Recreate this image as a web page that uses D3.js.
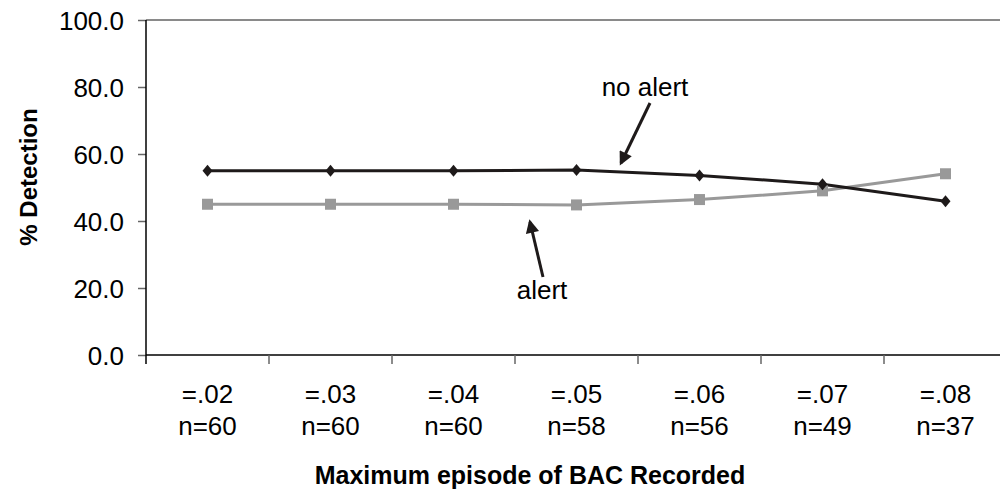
<!DOCTYPE html>
<html lang="en">
<head>
	<meta charset="utf-8">
	<title>% Detection by maximum BAC</title>
	<script src="https://d3js.org/d3.v7.min.js"></script>
	<style>
		body { margin: 0; background: #fff; }
		text { font-family: "Liberation Sans", Arial, sans-serif; }
	</style>
</head>
<body>
	<script type="text/javascript">
		// chart data
		var categories = ["=.02", "=.03", "=.04", "=.05", "=.06", "=.07", "=.08"];
		var counts = ["n=60", "n=60", "n=60", "n=58", "n=56", "n=49", "n=37"];
		var noAlert = [55.0, 55.0, 55.0, 55.2, 53.6, 51.0, 45.9];
		var alert = [45.0, 45.0, 45.0, 44.8, 46.4, 49.0, 54.1];
		var yTicks = [0, 20, 40, 60, 80, 100];

		var width = 1000;
		var height = 491;

		var svg = d3.select("body")
			.append("svg")
			.attr("width", width)
			.attr("height", height);

		var x = d3.scaleBand()
			.domain(categories)
			.range([146, 1007]);

		var y = d3.scaleLinear()
			.domain([0, 100])
			.range([355, 20]);

		// top border of plot area
		svg.append("line")
			.attr("x1", x.range()[0]).attr("x2", width)
			.attr("y1", y(100)).attr("y2", y(100))
			.attr("stroke", "#8a8a8a")
			.attr("stroke-width", 2);

		// y axis
		var yAxis = svg.append("g")
			.attr("transform", "translate(" + x.range()[0] + ",0)")
			.call(d3.axisLeft(y)
				.tickValues(yTicks)
				.tickSize(8)
				.tickPadding(14)
				.tickFormat(d3.format(".1f")));
		yAxis.select(".domain").remove();
		yAxis.selectAll(".tick line").attr("stroke", "#666").attr("stroke-width", 1.5);
		yAxis.selectAll(".tick text")
			.attr("font-size", "26px")
			.attr("font-family", "Liberation Sans, Arial, sans-serif")
			.attr("fill", "#000")
			.attr("dy", "0.35em");
		svg.append("line")
			.attr("x1", x.range()[0]).attr("x2", x.range()[0])
			.attr("y1", y(100)).attr("y2", y(0) + 9)
			.attr("stroke", "#000")
			.attr("stroke-width", 1.5);

		// x axis
		svg.append("line")
			.attr("x1", x.range()[0]).attr("x2", width)
			.attr("y1", y(0)).attr("y2", y(0))
			.attr("stroke", "#000")
			.attr("stroke-width", 1.5);
		svg.append("g")
			.selectAll("line")
			.data(categories.slice(1))
			.enter().append("line")
			.attr("x1", function(d) { return x(d); })
			.attr("x2", function(d) { return x(d); })
			.attr("y1", y(0))
			.attr("y2", y(0) + 9)
			.attr("stroke", "#666")
			.attr("stroke-width", 1.5);

		var xLabels = svg.append("g")
			.selectAll("text")
			.data(categories)
			.enter().append("text")
			.attr("x", function(d) { return x(d) + x.bandwidth() / 2; })
			.attr("y", 403)
			.attr("text-anchor", "middle")
			.attr("font-size", "26px")
			.attr("fill", "#000");
		xLabels.append("tspan")
			.attr("x", function(d) { return x(d) + x.bandwidth() / 2; })
			.text(function(d) { return d; });
		xLabels.append("tspan")
			.attr("x", function(d) { return x(d) + x.bandwidth() / 2; })
			.attr("dy", 32)
			.text(function(d, i) { return counts[i]; });

		// axis titles
		svg.append("text")
			.attr("x", 530)
			.attr("y", 484)
			.attr("text-anchor", "middle")
			.attr("font-size", "25px")
			.attr("font-weight", "bold")
			.text("Maximum episode of BAC Recorded");

		svg.append("text")
			.attr("transform", "translate(37,177) rotate(-90)")
			.attr("text-anchor", "middle")
			.attr("font-size", "24px")
			.attr("font-weight", "bold")
			.text("% Detection");

		// lines
		var line = d3.line()
			.x(function(d, i) { return x(categories[i]) + x.bandwidth() / 2; })
			.y(function(d) { return y(d); });

		svg.append("path")
			.datum(alert)
			.attr("d", line)
			.attr("fill", "none")
			.attr("stroke", "#999")
			.attr("stroke-width", 3);

		svg.append("path")
			.datum(noAlert)
			.attr("d", line)
			.attr("fill", "none")
			.attr("stroke", "#1e1a1a")
			.attr("stroke-width", 3);

		svg.append("g")
			.selectAll("rect")
			.data(alert)
			.enter().append("rect")
			.attr("x", function(d, i) { return x(categories[i]) + x.bandwidth() / 2 - 5.5; })
			.attr("y", function(d) { return y(d) - 5.5; })
			.attr("width", 11)
			.attr("height", 11)
			.attr("fill", "#999");

		svg.append("g")
			.selectAll("path")
			.data(noAlert)
			.enter().append("path")
			.attr("transform", function(d, i) {
				return "translate(" + (x(categories[i]) + x.bandwidth() / 2) + "," + y(d) + ")";
			})
			.attr("d", "M0,-6L5,0L0,6L-5,0Z")
			.attr("fill", "#1e1a1a");

		// annotations
		var defs = svg.append("defs");
		defs.append("marker")
			.attr("id", "arrow")
			.attr("viewBox", "0 0 10 10")
			.attr("refX", 8)
			.attr("refY", 5)
			.attr("markerWidth", 5)
			.attr("markerHeight", 4.5)
			.attr("markerUnits", "strokeWidth")
			.attr("orient", "auto")
			.append("path")
			.attr("d", "M0,0L10,5L0,10Z")
			.attr("fill", "#1e1a1a");

		svg.append("line")
			.attr("x1", 650).attr("y1", 103)
			.attr("x2", 621).attr("y2", 163)
			.attr("stroke", "#1e1a1a")
			.attr("stroke-width", 3)
			.attr("marker-end", "url(#arrow)");
		svg.append("text")
			.attr("x", 645)
			.attr("y", 96)
			.attr("text-anchor", "middle")
			.attr("font-size", "26px")
			.text("no alert");

		svg.append("line")
			.attr("x1", 543).attr("y1", 277)
			.attr("x2", 530).attr("y2", 222)
			.attr("stroke", "#1e1a1a")
			.attr("stroke-width", 3)
			.attr("marker-end", "url(#arrow)");
		svg.append("text")
			.attr("x", 542)
			.attr("y", 299)
			.attr("text-anchor", "middle")
			.attr("font-size", "26px")
			.text("alert");
	</script>
</body>
</html>
